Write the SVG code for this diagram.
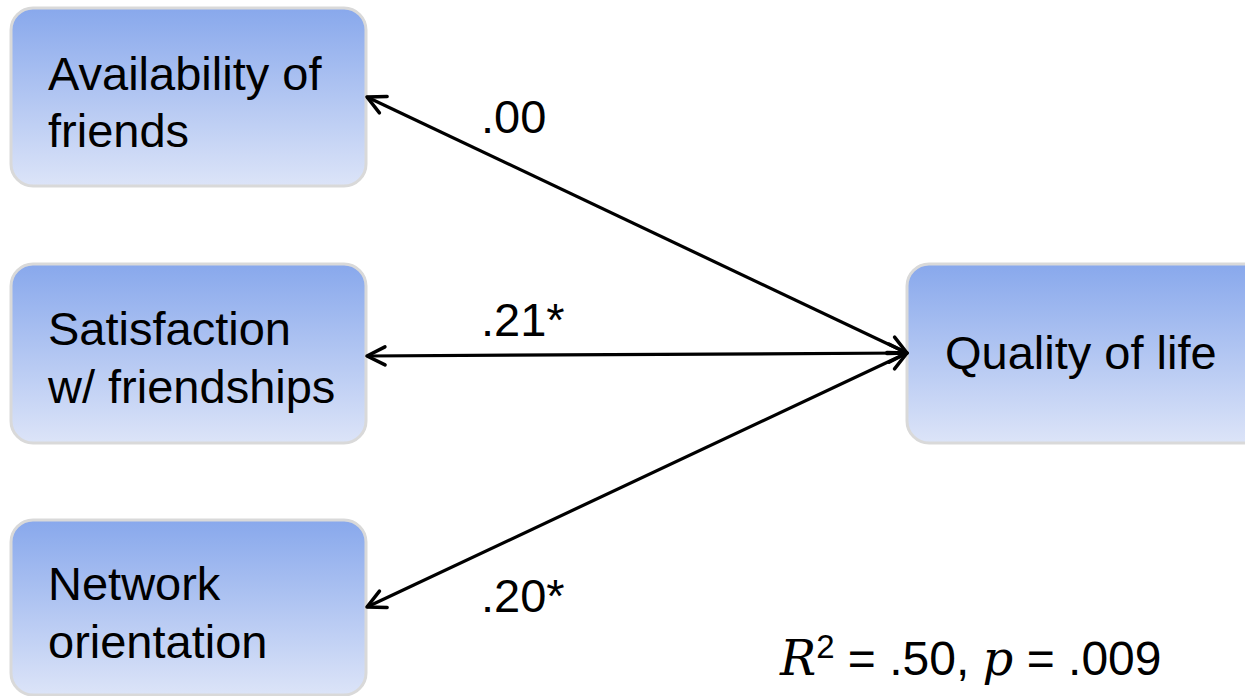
<svg xmlns="http://www.w3.org/2000/svg" width="1245" height="696" viewBox="0 0 1245 696">
<defs>
<linearGradient id="g" x1="0" y1="0" x2="0" y2="1">
<stop offset="0" stop-color="#88a8ec"/>
<stop offset="1" stop-color="#dce4f8"/>
</linearGradient>
<marker id="ah" viewBox="0 0 24 24" refX="21" refY="12" markerWidth="24" markerHeight="24" markerUnits="userSpaceOnUse" orient="auto-start-reverse">
<path d="M3,3 L21,12 L3,21" fill="none" stroke="#000" stroke-width="3.5" stroke-linecap="round" stroke-linejoin="round"/>
</marker>
<style>
.box{fill:url(#g);stroke:#d9d9d9;stroke-width:3}
.t{font-family:"Liberation Sans",Arial,sans-serif;font-size:47px;fill:#000}
.c{fill:none;stroke:#000;stroke-width:3.2}
.m{font-family:"DejaVu Serif","Liberation Serif",serif;font-style:italic}
.sup{font-size:33px}
</style>
</defs>
<g id="node-availability">
<rect class="box" x="11" y="8" width="355" height="178" rx="22"/>
<text class="t" x="48" y="90">Availability of</text>
<text class="t" x="48" y="147">friends</text>
</g>
<g id="node-satisfaction">
<rect class="box" x="11" y="264" width="355" height="179" rx="22"/>
<text class="t" x="48" y="345">Satisfaction</text>
<text class="t" x="48" y="403">w/ friendships</text>
</g>
<g id="node-network">
<rect class="box" x="11" y="520" width="355" height="175" rx="22"/>
<text class="t" x="48" y="600">Network</text>
<text class="t" x="48" y="658">orientation</text>
</g>
<g id="node-quality">
<rect class="box" x="907" y="264" width="360" height="179" rx="22"/>
<text class="t" x="945" y="369">Quality of life</text>
</g>
<g id="connectors">
<line class="c" x1="367" y1="97" x2="907" y2="353" marker-start="url(#ah)" marker-end="url(#ah)"/>
<line class="c" x1="367" y1="356" x2="907" y2="353" marker-start="url(#ah)" marker-end="url(#ah)"/>
<line class="c" x1="367" y1="607" x2="907" y2="353" marker-start="url(#ah)" marker-end="url(#ah)"/>
<text class="t" x="481" y="133">.00</text>
<text class="t" x="481" y="336">.21*</text>
<text class="t" x="481" y="612">.20*</text>
</g>
<text class="t" x="780" y="675" style="font-size:48px"><tspan class="m">R</tspan><tspan class="sup" dy="-17">2</tspan><tspan dy="17"> = .50, </tspan><tspan class="m">p</tspan> = .009</text>
</svg>
